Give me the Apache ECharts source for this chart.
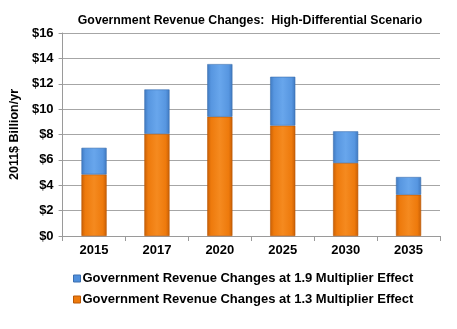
<!DOCTYPE html>
<html>
<head>
<meta charset="utf-8">
<script src="https://cdn.jsdelivr.net/npm/echarts@6/dist/echarts.min.js"></script>
<style>
html,body{margin:0;padding:0;background:#fff;}
#chart{width:457px;height:329px;}
</style>
</head>
<body>
<div id="chart"></div>
<script>
// Government revenue changes by year (2011$ billion/yr)
const years = ['2015', '2017', '2020', '2025', '2030', '2035'];
// Base component at the 1.3 multiplier
const base13 = [4.85, 8.05, 9.4, 8.7, 5.75, 3.25];
// Additional revenue when the multiplier rises to 1.9 (stacked on top)
const extra19 = [2.1, 3.5, 4.15, 3.85, 2.5, 1.4];
const yTicks = [0, 2, 4, 6, 8, 10, 12, 14, 16];

const FONT = 'Liberation Sans, Arial, sans-serif';
const NAME19 = 'Government Revenue Changes at 1.9 Multiplier Effect';
const NAME13 = 'Government Revenue Changes at 1.3 Multiplier Effect';

function grad(light, mid, dark) {
  return new echarts.graphic.LinearGradient(0, 0, 1, 0, [
    { offset: 0, color: dark },
    { offset: 0.15, color: mid },
    { offset: 0.5, color: light },
    { offset: 0.85, color: mid },
    { offset: 1, color: dark }
  ]);
}

const chart = echarts.init(document.getElementById('chart'), null, { renderer: 'canvas' });
chart.setOption({
  animation: false,
  backgroundColor: '#ffffff',
  title: {
    text: 'Government Revenue Changes:  High-Differential Scenario',
    left: 245, top: 10, textAlign: 'center',
    textStyle: { fontFamily: FONT, fontSize: 12.3, fontWeight: 'bold', color: '#000' }
  },
  legend: {
    orient: 'vertical',
    left: 68, top: 267,
    itemWidth: 7, itemHeight: 7, itemGap: 8,
    icon: 'rect',
    textStyle: { fontFamily: FONT, fontSize: 13, fontWeight: 'bold', color: '#000', padding: [0, 0, 0, -3] },
    data: [
      { name: NAME19, itemStyle: { color: '#4f8fdc', borderColor: '#3a6eaf', borderWidth: 1 } },
      { name: NAME13, itemStyle: { color: '#ee7a0c', borderColor: '#b85604', borderWidth: 1 } }
    ]
  },
  grid: { left: 62, right: 17, top: 33, bottom: 93 },
  xAxis: {
    type: 'category',
    data: years,
    axisLine: { lineStyle: { color: '#9a9a9a' } },
    axisTick: { show: true, length: 5, lineStyle: { color: '#9a9a9a' } },
    axisLabel: { fontFamily: FONT, fontSize: 13, fontWeight: 'bold', color: '#000', margin: 8 }
  },
  yAxis: {
    type: 'value',
    min: 0, max: 16, interval: 2,
    name: '2011$ Billion/yr',
    nameLocation: 'middle',
    nameGap: 38,
    nameTextStyle: { fontFamily: FONT, fontSize: 12.5, fontWeight: 'bold', color: '#000' },
    axisLine: { show: true, lineStyle: { color: '#9a9a9a' } },
    axisTick: { show: true, length: 4, lineStyle: { color: '#9a9a9a' } },
    splitLine: { lineStyle: { color: '#a6a6a6' } },
    axisLabel: {
      fontFamily: FONT, fontSize: 13, fontWeight: 'bold', color: '#000', margin: 9,
      formatter: v => yTicks.includes(v) ? '$' + v : ''
    }
  },
  series: [
    {
      name: NAME13,
      type: 'bar', stack: 'rev', barWidth: '40%',
      data: base13,
      itemStyle: {
        color: grad('#f58a1f', '#ee7a0c', '#c85f05'),
        borderColor: '#b85604', borderWidth: 0.6
      }
    },
    {
      name: NAME19,
      type: 'bar', stack: 'rev', barWidth: '40%',
      data: extra19,
      itemStyle: {
        color: grad('#68a6ec', '#5796e0', '#3f79c0'),
        borderColor: '#3a6eaf', borderWidth: 0.6
      }
    }
  ]
});
</script>
</body>
</html>
